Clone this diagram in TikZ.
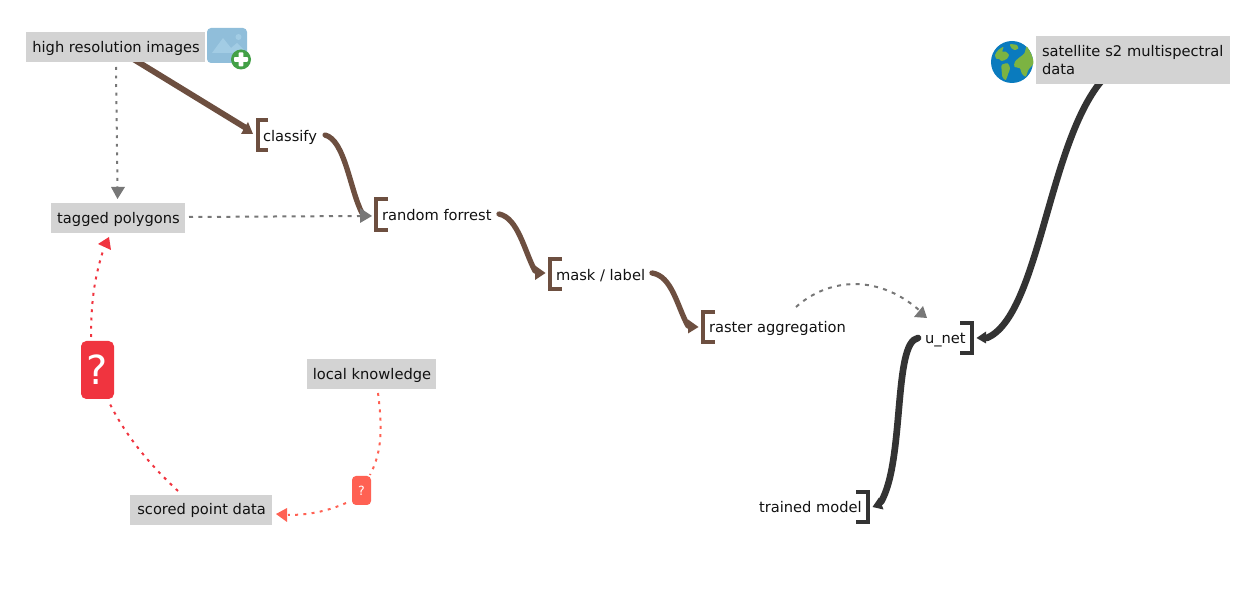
\documentclass[tikz,border=0pt]{standalone}
\usepackage{fontspec}
\setmainfont{DejaVu Sans}
\definecolor{boxgray}{HTML}{D3D3D3}
\definecolor{brownline}{HTML}{6D4F40}
\definecolor{darkline}{HTML}{333333}
\definecolor{grayline}{HTML}{777777}
\definecolor{redstrong}{HTML}{F0343F}
\definecolor{redsoft}{HTML}{FF6153}
\definecolor{iconblue}{HTML}{90BEDA}
\definecolor{iconlight}{HTML}{A2CCE4}
\definecolor{plusgreen}{HTML}{43A047}
\definecolor{ocean}{HTML}{0A7BBE}
\definecolor{land}{HTML}{7CB342}
\definecolor{inktext}{HTML}{111111}
\tikzset{
  x=0.75pt,y=-0.75pt,
  every node/.style={font=\fontsize{11pt}{13.5pt}\selectfont,text=inktext,inner sep=0pt,outer sep=0pt},
  greybox/.style={fill=boxgray,minimum height=22.5pt,text height=9pt,text depth=1.5pt,execute at begin node=\kern0.8pt},
  plainlabel/.style={anchor=base west},
  brownflow/.style={draw=brownline,line width=4pt,line cap=round},
  darkflow/.style={draw=darkline,line width=5pt,line cap=round},
  greyflow/.style={draw=grayline,line width=1.5pt,dash pattern=on 3pt off 4pt},
  greydots/.style={draw=grayline,line width=1.5pt,dash pattern=on 2.2pt off 4.2pt},
  reddots/.style={draw=redstrong,line width=1.5pt,dash pattern=on 2.2pt off 4pt},
  softdots/.style={draw=redsoft,line width=1.5pt,dash pattern=on 2.2pt off 4pt},
  brownbracket/.style={draw=brownline,line width=3pt},
  darkbracket/.style={draw=darkline,line width=3pt},
}
\begin{document}
\begin{tikzpicture}
\useasboundingbox (0,0) rectangle (1247,598);

% free connector ends
\coordinate (hriOut) at (130,57);
\coordinate (classifyIn) at (246,128);
\coordinate (classifyOut) at (325,135);
\coordinate (forrestIn) at (362,213);
\coordinate (forrestOut) at (499,214);
\coordinate (maskIn) at (535,271);
\coordinate (maskOut) at (652,273);
\coordinate (rasterIn) at (688,326);
\coordinate (rasterOut) at (796,307);
\coordinate (unetIn) at (919,310);
\coordinate (unetOutL) at (918,338);
\coordinate (trainedIn) at (881,502);
\coordinate (satOut) at (1104,78);
\coordinate (unetInR) at (987,338);
\coordinate (hriDown) at (116,67);
\coordinate (taggedIn) at (117.5,188);
\coordinate (taggedOut) at (189,217);
\coordinate (forrestInG) at (361,216);
\coordinate (bigqTop) at (91,337);
\coordinate (taggedInR) at (104,248);
\coordinate (scoredUp) at (178,491);
\coordinate (bigqBot) at (109,402);
\coordinate (localOut) at (378,393);
\coordinate (smallqTop) at (370,475);
\coordinate (smallqLeft) at (346,503);
\coordinate (scoredIn) at (288,515);

% connectors
\draw[greydots] (hriDown) -- (taggedIn);
\draw[greyflow] (taggedOut) -- (forrestInG);
\draw[brownflow,line width=4.4pt] (hriOut) -- (classifyIn);
\draw[brownflow] (classifyOut) .. controls (345,140) and (350,190) .. (forrestIn);
\draw[brownflow] (forrestOut) .. controls (518,218) and (524,250) .. (maskIn);
\draw[brownflow] (maskOut) .. controls (672,276) and (677,306) .. (rasterIn);
\draw[greyflow] (rasterOut) .. controls (826,280) and (875,272) .. (unetIn);
\draw[darkflow] (satOut) .. controls (1048,140) and (1040,315) .. (unetInR);
\draw[darkflow] (unetOutL) .. controls (893,342) and (905,460) .. (trainedIn);
\draw[reddots] (bigqTop) .. controls (91,300) and (95,275) .. (taggedInR);
\draw[reddots] (scoredUp) .. controls (150,465) and (125,435) .. (bigqBot);
\draw[softdots] (localOut) .. controls (382,425) and (383,450) .. (smallqTop);
\draw[softdots] (smallqLeft) .. controls (330,510) and (312,515) .. (scoredIn);

% boxed nodes (over the connector starts)
\node[greybox,minimum width=134.25pt] (hri) at (115.5,47.5) {high resolution images};
\node[greybox,minimum width=100.5pt,text height=9.8pt] (tagged) at (118,218) {tagged polygons};
\node[greybox,minimum width=96.75pt,text height=9.8pt] (local) at (371.5,374) {local knowledge};
\node[greybox,minimum width=106.5pt] (scored) at (201,510) {scored point data};
\node[fill=boxgray,minimum width=145.5pt,minimum height=36pt,align=left,text width=136.5pt,inner xsep=4.5pt] (sat) at (1133,60) {satellite s2 multispectral\\data};

% bracket-labelled nodes
\node[plainlabel] (classify) at (263,141.7) {classify};
\node[plainlabel] (forrest) at (382,220.7) {random forrest};
\node[plainlabel] (mask) at (556,280.7) {mask / label};
\node[plainlabel] (raster) at (709,332.7) {raster aggregation};
\node[plainlabel] (unet) at (925,343.7) {u\_net};
\node[plainlabel] (trained) at (759,512.7) {trained model};

% cards
\node[fill=redstrong,rounded corners=4pt,minimum width=24.75pt,minimum height=43.5pt,text=white,font=\fontsize{30pt}{30pt}\selectfont] (bigq) at (97.5,370) {?};
\node[fill=redsoft,rounded corners=3pt,minimum width=14.25pt,minimum height=21.75pt,text=white,font=\fontsize{9.5pt}{10pt}\selectfont] (smallq) at (361.5,490.5) {?};

% brackets
\draw[brownbracket] (268,120.5) -- (257.5,120.5) -- (257.5,150.5) -- (268,150.5);
\draw[brownbracket] (388,199.5) -- (376,199.5) -- (376,230.5) -- (388,230.5);
\draw[brownbracket] (562,259.5) -- (550,259.5) -- (550,289.5) -- (562,289.5);
\draw[brownbracket] (715,312.5) -- (703,312.5) -- (703,342.5) -- (715,342.5);
\draw[darkbracket] (960,323.5) -- (972,323.5) -- (972,353.5) -- (960,353.5);
\draw[darkbracket] (856,492.5) -- (868,492.5) -- (868,522.5) -- (856,522.5);

% arrowheads
\fill[brownline] (241,134) -- (253,134) -- (248,122) -- cycle;
\fill[brownline] (535,265.5) -- (545.5,273) -- (535,280) -- cycle;
\fill[brownline] (688,319.5) -- (698.5,327) -- (688,333.5) -- cycle;
\fill[grayline] (360,208) -- (372,216) -- (360,223) -- cycle;
\fill[grayline] (111,187) -- (125,187) -- (117.5,199) -- cycle;
\fill[grayline] (914,317) -- (927,318) -- (923,306) -- cycle;
\fill[darkline] (976.5,338) -- (986,331.5) -- (986,343.5) -- cycle;
\fill[darkline] (872.5,507) -- (883.5,509.5) -- (879,497.5) -- cycle;
\fill[redstrong] (98,244) -- (109,237) -- (111,250) -- cycle;
\fill[redsoft] (276,514) -- (287,508) -- (287,522) -- cycle;

% image icon
\fill[iconblue,rounded corners=3pt] (207,28) rectangle (247,63);
\fill[iconlight] (212,53) -- (223,38) -- (231,48) -- (237,43) -- (247,53) -- cycle;
\fill[iconlight] (238.5,37) circle[radius=3];
\fill[plusgreen] (241,59.5) circle[radius=10];
\fill[white,rounded corners=0.6pt] (238.7,52.5) rectangle (243.3,66.5);
\fill[white,rounded corners=0.6pt] (234,57.2) rectangle (248,61.8);

% globe icon
\fill[ocean] (1012,62) circle[radius=21];
\begin{scope}[shift={(985,35)},x=0.25pt,y=-0.25pt]
\fill[land] plot[smooth cycle,tension=0.5] coordinates {(30,60) (40,45) (55,36) (52,50) (62,50) (72,60) (65,72) (50,78) (42,72) (35,72)};
\fill[land] plot[smooth cycle,tension=0.5] coordinates {(75,28) (95,30) (100,40) (90,45) (80,40)};
\fill[land] plot[smooth cycle,tension=0.5] coordinates {(50,90) (68,85) (75,100) (70,115) (62,135) (52,125) (50,105)};
\fill[land] plot[smooth cycle,tension=0.5] coordinates {(100,70) (118,55) (125,35) (140,60) (145,85) (130,105) (122,125) (110,115) (105,100) (88,95) (90,80)};
\end{scope}
\end{tikzpicture}
\end{document}
